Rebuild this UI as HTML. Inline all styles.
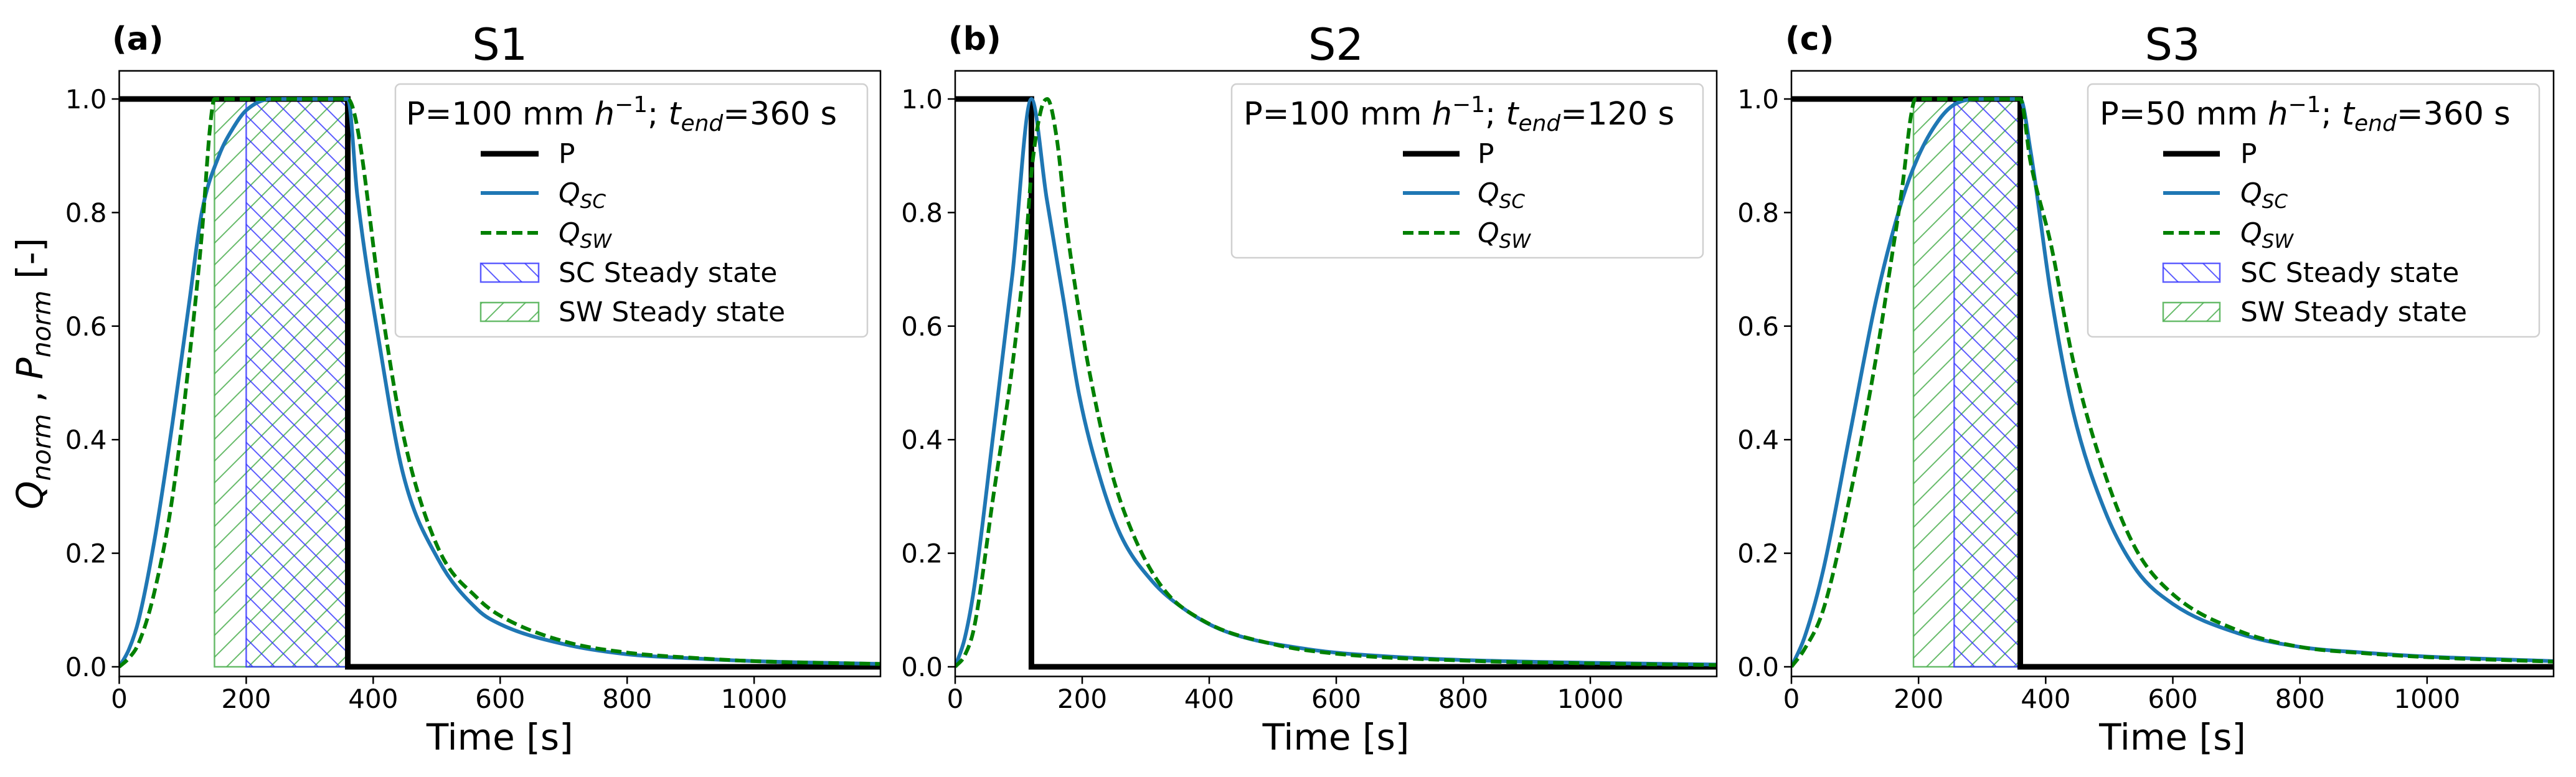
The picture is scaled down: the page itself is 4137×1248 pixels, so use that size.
<!DOCTYPE html>
<html><head><meta charset="utf-8"><style>
html,body{margin:0;padding:0;background:#fff;}
svg{display:block;font-family:"DejaVu Sans","Liberation Sans",sans-serif;}
</style></head><body>
<svg id="fig" width="4137" height="1248" viewBox="0 0 4137 1248" xmlns="http://www.w3.org/2000/svg">
<defs>
<pattern id="hatchSW" patternUnits="userSpaceOnUse" width="35" height="35">
<path d="M-5,40 L40,-5 M-5,5 L5,-5 M30,40 L40,30" stroke="#4caf50" stroke-opacity="0.85" stroke-width="2"/>
</pattern>
<pattern id="hatchSC" patternUnits="userSpaceOnUse" width="35" height="35">
<path d="M-5,-5 L40,40 M-5,30 L5,40 M30,-5 L40,5" stroke="#3333ff" stroke-opacity="0.8" stroke-width="2"/>
</pattern>
</defs>
<g id="root"></g>
<text x="68" y="600" transform="rotate(-90 68 600)" text-anchor="middle" font-size="58"><tspan font-style="italic">Q</tspan><tspan font-style="italic" font-size="41" dy="13">norm</tspan><tspan dy="-13"> , </tspan><tspan font-style="italic">P</tspan><tspan font-style="italic" font-size="41" dy="13">norm</tspan><tspan dy="-13"> [-]</tspan></text>
</svg>
<script>
// ---- data ----
const tA_SC=[0,15,30,55,84,110,130,157,180,200,240,300,360,375,411,447,502,565,600,700,800,900,1000,1200];
const qA_SC=[0,0.03,0.08,0.22,0.43,0.64,0.8,0.9,0.95,0.98,1.0,1.0,1.0,0.83,0.56,0.34,0.19,0.10,0.075,0.04,0.022,0.015,0.01,0.005];
const tA_SW=[0,15,30,55,84,112,130,143,150,200,300,360,375,411,447,502,565,600,700,800,900,1000,1200];
const qA_SW=[0,0.015,0.04,0.13,0.30,0.56,0.76,0.95,1.0,1.0,1.0,1.0,0.95,0.65,0.41,0.21,0.12,0.09,0.045,0.025,0.016,0.01,0.005];
const tB_SC=[0,15,30,60,90,120,144,170,195,228,261,310,359,424,555,700,800,1000,1200];
const qB_SC=[0,0.05,0.14,0.41,0.69,1.0,0.825,0.65,0.48,0.333,0.231,0.151,0.103,0.063,0.031,0.017,0.012,0.007,0.004];
const tB_SW=[0,15,30,60,90,112,120,135,145,160,175,201,212,244,277,326,391,500,600,800,1000,1200];
const qB_SW=[0,0.02,0.07,0.30,0.53,0.755,0.87,0.98,1.0,0.93,0.78,0.585,0.516,0.352,0.242,0.14,0.081,0.04,0.023,0.011,0.006,0.003];
const tC_SC=[0,20,50,92,134,175,200,230,256,300,360,376,409,443,493,543,601,700,800,900,1000,1200];
const qC_SC=[0,0.05,0.17,0.41,0.65,0.825,0.9,0.96,0.99,1.0,1.0,0.91,0.65,0.45,0.275,0.17,0.11,0.06,0.035,0.025,0.018,0.01];
const tC_SW=[0,20,50,92,134,159,175,188,195,300,360,376,409,443,493,543,601,700,800,900,1000,1200];
const qC_SW=[0,0.03,0.10,0.30,0.55,0.73,0.85,0.97,1.0,1.0,1.0,0.89,0.74,0.54,0.34,0.205,0.127,0.065,0.035,0.024,0.017,0.009];
const tEnd=[360,120,360];
const scSteady=[[200,360],null,[256,360]];
const swSteady=[[150,360],null,[192,360]];
const xTicks=[0,200,400,600,800,1000];
const yTicks=[0,0.2,0.4,0.6,0.8,1.0];
const titles=["S1","S2","S3"];
const letters=["(a)","(b)","(c)"];
const legendTitles=[["100","360"],["100","120"],["50","360"]];

const NS="http://www.w3.org/2000/svg";
const root=document.getElementById('root');
function mk(tag,attrs,parent){const e=document.createElementNS(NS,tag);for(const k in attrs)e.setAttribute(k,attrs[k]);(parent||root).appendChild(e);return e;}

function monoPath(X,Y){
 const n=X.length;const d=[],m=[];
 for(let k=0;k<n-1;k++)d.push((Y[k+1]-Y[k])/(X[k+1]-X[k]));
 m[0]=d[0];m[n-1]=d[n-2];
 for(let k=1;k<n-1;k++){m[k]=(d[k-1]*d[k]<=0)?0:(d[k-1]+d[k])/2;}
 for(let k=0;k<n-1;k++){
  if(d[k]===0){m[k]=0;m[k+1]=0;continue;}
  const a=m[k]/d[k],b=m[k+1]/d[k],s=a*a+b*b;
  if(s>9){const t=3/Math.sqrt(s);m[k]=t*a*d[k];m[k+1]=t*b*d[k];}
 }
 let p='M'+X[0].toFixed(1)+','+Y[0].toFixed(1);
 for(let k=0;k<n-1;k++){const h=(X[k+1]-X[k])/3;
  p+=` C${(X[k]+h).toFixed(1)},${(Y[k]+m[k]*h).toFixed(1)} ${(X[k+1]-h).toFixed(1)},${(Y[k+1]-m[k+1]*h).toFixed(1)} ${X[k+1].toFixed(1)},${Y[k+1].toFixed(1)}`;}
 return p;
}

const panels=[
 {L:191.5,R:1414,legend:[635,1393,135,541],hx:[772,865],tx:897,lt:652,lx:180},
 {L:1534,R:2757,legend:[1978,2735,135,414],hx:[2253,2344],tx:2373,lt:1997,lx:1523},
 {L:2877,R:4101,legend:[3353,4078,135,541],hx:[3474,3565],tx:3598,lt:3372,lx:2867}
];
const T=113.8,B=1086.5,Y0=1071,Y1=159;
const sets=[[tA_SC,qA_SC,tA_SW,qA_SW],[tB_SC,qB_SC,tB_SW,qB_SW],[tC_SC,qC_SC,tC_SW,qC_SW]];

panels.forEach((p,i)=>{
 const xs=t=>p.L+(t/1199)*(p.R-p.L);
 const ys=v=>Y0+(Y1-Y0)*v;
 const g=mk('g',{});
 
 
 const cp=mk('clipPath',{id:'clip'+i},g);
 mk('rect',{x:p.L,y:T,width:p.R-p.L,height:B-T},cp);
 const pg=mk('g',{'clip-path':`url(#clip${i})`},g);
 if(swSteady[i]){const r=mk('rect',{x:xs(swSteady[i][0]),y:ys(1),width:xs(swSteady[i][1])-xs(swSteady[i][0]),height:ys(0)-ys(1),fill:'url(#hatchSW)',stroke:'#4caf50','stroke-opacity':0.85,'stroke-width':2.5},pg);
  
  }
 if(scSteady[i]){const r=mk('rect',{x:xs(scSteady[i][0]),y:ys(1),width:xs(scSteady[i][1])-xs(scSteady[i][0]),height:ys(0)-ys(1),fill:'url(#hatchSC)',stroke:'#3333ff','stroke-opacity':0.8,'stroke-width':2.5},pg);
  
  }
 const pp=mk('path',{d:`M${xs(0)},${ys(1)} L${xs(tEnd[i])},${ys(1)} L${xs(tEnd[i])},${ys(0)} L${xs(1199)},${ys(0)}`,fill:'none',stroke:'#000','stroke-width':9},pg);
 
 
 const [tsc,qsc,tsw,qsw]=sets[i];
 const line=(ts,qs)=>monoPath(ts.map(t=>xs(t)),qs.map(q=>ys(q)));
 const l1=mk('path',{d:line(tsc,qsc),fill:'none',stroke:'#1f77b4','stroke-width':6,'stroke-linejoin':'round'},pg);
 
 
 const l2=mk('path',{d:line(tsw,qsw),fill:'none',stroke:'#008000','stroke-width':6,'stroke-dasharray':'17 8','stroke-linejoin':'round'},pg);
 
 
 const fr=mk('rect',{x:p.L,y:T,width:p.R-p.L,height:B-T,fill:'none',stroke:'#000','stroke-width':2.5},g);
 
 
 xTicks.forEach(v=>{mk('line',{x1:xs(v),x2:xs(v),y1:B,y2:B+12,stroke:'#000','stroke-width':2.5},g);
  const tx=mk('text',{x:xs(v),y:1137,'text-anchor':'middle','font-size':42},g);tx.textContent=v;
  
  });
 yTicks.forEach(v=>{mk('line',{x1:p.L-12,x2:p.L,y1:ys(v),y2:ys(v),stroke:'#000','stroke-width':2.5},g);
  const tx=mk('text',{x:p.L-20,y:ys(v)+15,'text-anchor':'end','font-size':42},g);tx.textContent=v.toFixed(1);
  
  });
 const xt=mk('text',{x:(p.L+p.R)/2,y:1204,'text-anchor':'middle','font-size':58},g);xt.textContent='Time [s]';
 
 
 const tt=mk('text',{x:(p.L+p.R)/2,y:96,'text-anchor':'middle','font-size':70},g);tt.textContent=titles[i];
 
 
 const lt=mk('text',{x:p.lx,y:80,'font-size':52,'font-weight':'bold'},g);lt.textContent=letters[i];
 
 
 const [lx0,lx1,ly0,ly1]=p.legend;
 const lg=mk('g',{},g);
 
 
 mk('rect',{x:lx0,y:ly0,width:lx1-lx0,height:ly1-ly0,rx:8,fill:'#fff','fill-opacity':0.8,stroke:'#d0d0d0','stroke-width':2.5},lg);
 const ltt=mk('text',{x:p.lt,y:200,'font-size':51},lg);
 ltt.innerHTML=`P=${legendTitles[i][0]} mm <tspan font-style="italic">h</tspan><tspan font-size="36" dy="-20">−1</tspan><tspan dy="20">; </tspan><tspan font-style="italic">t</tspan><tspan font-style="italic" font-size="36" dy="10">end</tspan><tspan dy="-10">=${legendTitles[i][1]} s</tspan>`;
 
 
 const rows=[247,310,374,438,501];
 const entries=[['P','p'],['Q','sc'],['Q','sw']];
 if(swSteady[i]){entries.push(['SC Steady state','scss']);entries.push(['SW Steady state','swss']);}
 entries.forEach((e,k)=>{
  const y=rows[k];
  const eg=mk('g',{},lg);
  
  
  if(e[1]==='p')mk('line',{x1:p.hx[0],x2:p.hx[1],y1:y,y2:y,stroke:'#000','stroke-width':9},eg);
  if(e[1]==='sc')mk('line',{x1:p.hx[0],x2:p.hx[1],y1:y,y2:y,stroke:'#1f77b4','stroke-width':6},eg);
  if(e[1]==='sw')mk('line',{x1:p.hx[0],x2:p.hx[1],y1:y,y2:y,stroke:'#008000','stroke-width':6,'stroke-dasharray':'17 8'},eg);
  if(e[1]==='scss')mk('rect',{x:p.hx[0],y:y-15,width:p.hx[1]-p.hx[0],height:30,fill:'url(#hatchSC)',stroke:'#3333ff','stroke-opacity':0.8,'stroke-width':2.5},eg);
  if(e[1]==='swss')mk('rect',{x:p.hx[0],y:y-15,width:p.hx[1]-p.hx[0],height:30,fill:'url(#hatchSW)',stroke:'#4caf50','stroke-opacity':0.85,'stroke-width':2.5},eg);
  const t=mk('text',{x:p.tx,y:y+15,'font-size':44},eg);
  if(e[1]==='sc')t.innerHTML='<tspan font-style="italic">Q</tspan><tspan font-style="italic" font-size="31" dy="9">SC</tspan>';
  else if(e[1]==='sw')t.innerHTML='<tspan font-style="italic">Q</tspan><tspan font-style="italic" font-size="31" dy="9">SW</tspan>';
  else t.textContent=e[0];
 });
});
</script>
</body></html>
